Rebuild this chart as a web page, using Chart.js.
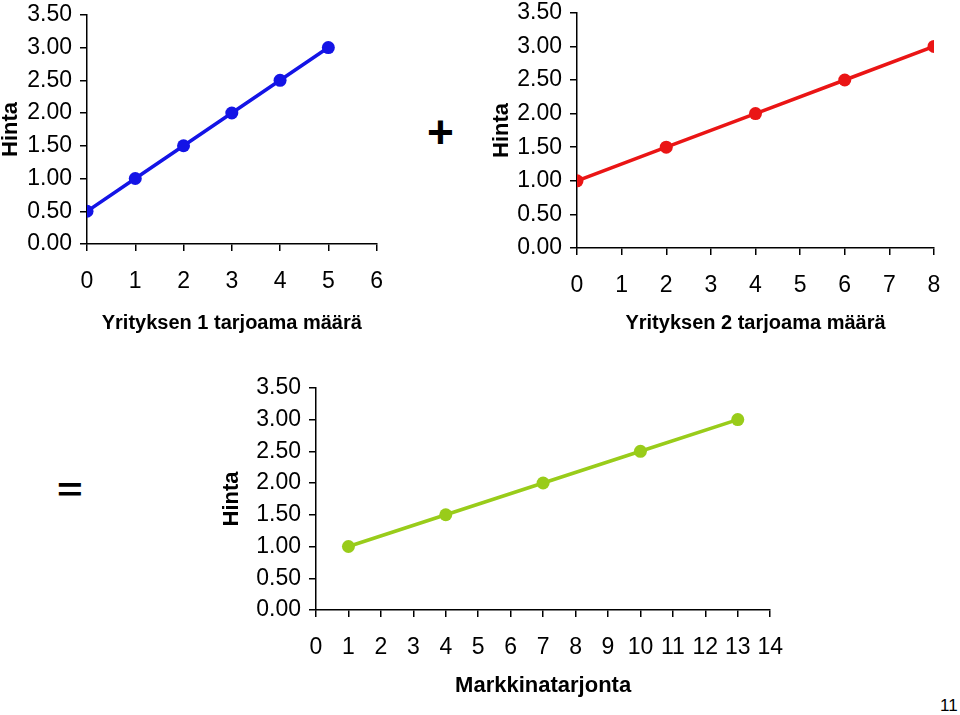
<!DOCTYPE html>
<html>
<head>
<meta charset="utf-8">
<script src="https://cdn.jsdelivr.net/npm/chart.js@4/dist/chart.umd.min.js"></script>
<style>
  html, body { margin: 0; padding: 0; background: #fff; }
  body { width: 960px; height: 715px; position: relative; overflow: hidden; font-family: "Liberation Sans", Arial, sans-serif; }
  .box { position: absolute; }
  .sign { position: absolute; font-weight: bold; color: #000; line-height: 1; }
</style>
</head>
<body>
<div class="box" style="left:0;top:-7px;width:400px;height:347px"><canvas id="c1"></canvas></div>
<div class="box" style="left:480px;top:-9px;width:480px;height:349px"><canvas id="c2"></canvas></div>
<div class="box" style="left:200px;top:366px;width:600px;height:349px"><canvas id="c3"></canvas></div>
<div class="sign" style="left:427px;top:109px;font-size:46px">+</div>
<div class="sign" style="left:57px;top:468px;font-size:44px;transform:scaleY(0.75)">=</div>
<div class="sign" style="left:940px;top:697px;font-size:17px;font-weight:normal">11</div>
<script>
// yritys 1
const x1 = [0, 1, 2, 3, 4, 5];
const hinta1 = [0.5, 1, 1.5, 2, 2.5, 3];
// yritys 2
const x2 = [0, 2, 4, 6, 8];
const hinta2 = [1, 1.5, 2, 2.5, 3];
// markkinat
const x3 = [1, 4, 7, 10, 13];
const hinta3 = [1, 1.5, 2, 2.5, 3];

const yTitle = 'Hinta';
const xTitles = ['Yrityksen 1 tarjoama määrä', 'Yrityksen 2 tarjoama määrä', 'Markkinatarjonta'];
const xMax = [6, 8, 14];
const yMax = 3.5;
const yStep = 0.5;

const fontName = '"Liberation Sans", Arial, sans-serif';

function makeChart(id, xs, ys, color, o) {
    return new Chart(document.getElementById(id), {
        type: 'line',
        data: {
            datasets: [{
                data: xs.map((x, i) => ({x: x, y: ys[i]})),
                borderColor: color,
                backgroundColor: color,
                borderWidth: 3.5,
                pointRadius: 6.5,
                pointHoverRadius: 6.5,
                pointBorderWidth: 0
            }]
        },
        options: {
            animation: false,
            responsive: true,
            maintainAspectRatio: false,
            layout: { padding: { top: 0, right: o.right, left: 0, bottom: 0 } },
            plugins: { legend: { display: false }, tooltip: { enabled: false } },
            scales: {
                x: {
                    type: 'linear',
                    min: 0,
                    max: o.xMax,
                    afterFit: s => { s.height = o.xH; },
                    border: { color: '#000', width: 1.5 },
                    grid: { drawOnChartArea: false, drawTicks: true, tickLength: 7, color: '#000', lineWidth: 1.5 },
                    ticks: { stepSize: 1, color: '#000', padding: 17, maxRotation: 0, autoSkip: false,
                        font: { family: fontName, size: 23 } },
                    title: { display: true, text: o.xTitle, color: '#000',
                        font: { family: fontName, size: o.xTitleSize, weight: 'bold', lineHeight: 1 },
                        padding: { top: 0, bottom: o.xTitlePad } }
                },
                y: {
                    min: 0,
                    max: yMax,
                    afterFit: s => { s.width = o.yW; },
                    border: { color: '#000', width: 1.5 },
                    grid: { drawOnChartArea: false, drawTicks: true, tickLength: 7, color: '#000', lineWidth: 1.5 },
                    ticks: { stepSize: yStep, color: '#000', padding: 8,
                        callback: v => Number(v).toFixed(2),
                        font: { family: fontName, size: 23 } },
                    title: { display: true, text: yTitle, color: '#000',
                        font: { family: fontName, size: 22, weight: 'bold', lineHeight: 1 },
                        padding: { top: o.yTitlePad, bottom: 0 } }
                }
            }
        }
    });
}

makeChart('c1', x1, hinta1, '#1414E6', {
    right: 20, xMax: xMax[0], xH: 96, yW: 87,
    xTitle: xTitles[0], xTitleSize: 20, xTitlePad: 7, yTitlePad: 0
});
makeChart('c2', x2, hinta2, '#EA1515', {
    right: 26, xMax: xMax[1], xH: 92, yW: 97,
    xTitle: xTitles[1], xTitleSize: 20, xTitlePad: 7, yTitlePad: 11
});
makeChart('c3', x3, hinta3, '#99CC1A', {
    right: 15, xMax: xMax[2], xH: 105, yW: 116,
    xTitle: xTitles[2], xTitleSize: 22, xTitlePad: 18, yTitlePad: 21
});
</script>
</body>
</html>
